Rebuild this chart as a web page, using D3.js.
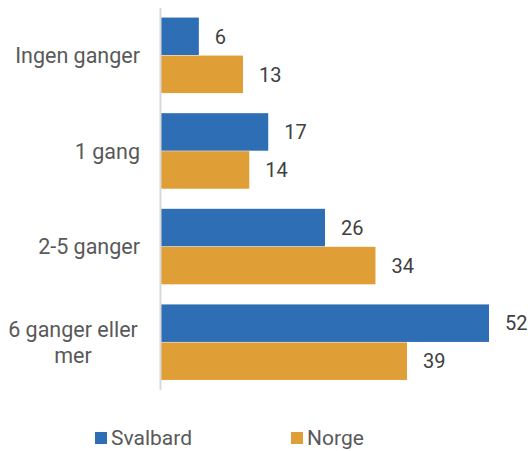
<!DOCTYPE html>
<html>
<head>
<meta charset="utf-8">
<script src="https://cdn.jsdelivr.net/npm/d3@7"></script>
<style>
  body { margin: 0; background: #fff; }
  svg { display: block; font-family: Roboto, "Liberation Sans", sans-serif; }
</style>
</head>
<body>
<svg id="chart" width="532" height="451"></svg>
<script>
// data
var categories = ["Ingen ganger", "1 gang", "2-5 ganger", "6 ganger eller mer"]
var series_names = ["Svalbard", "Norge"]
var svalbard = [6, 17, 26, 52]
var norge = [13, 14, 34, 39]
var series_colors = ["#2E6EB4", "#E09E36"]

var svg = d3.select("#chart")
var left = 161, top_y = 8, bottom_y = 390

var values = [svalbard, norge]

var y = d3.scaleBand()
  .domain(categories)
  .range([top_y, bottom_y])
  .paddingInner(0.205)
  .paddingOuter(0.1)

var y_inner = d3.scaleBand()
  .domain(series_names)
  .range([0, y.bandwidth()])

var x = d3.scaleLinear()
  .domain([0, 52])
  .range([left, 489])

// bars
series_names.forEach(function(name, si){
  var g = svg.append("g").attr("class", "series-" + si)
  g.selectAll("rect")
    .data(categories)
    .enter().append("rect")
      .attr("x", x(0))
      .attr("y", function(d){ return y(d) + y_inner(name) })
      .attr("width", function(d, i){ return x(values[si][i]) - x(0) })
      .attr("height", y_inner.bandwidth() - 0.5)
      .attr("fill", series_colors[si])

  g.selectAll("text")
    .data(categories)
    .enter().append("text")
      .attr("x", function(d, i){ return x(values[si][i]) + 16 })
      .attr("y", function(d){ return y(d) + y_inner(name) + y_inner.bandwidth() / 2 })
      .attr("dy", "0.35em")
      .attr("font-size", "20px")
      .attr("fill", "#404040")
      .text(function(d, i){ return values[si][i] })
})

// category axis line
svg.append("line")
  .attr("x1", left - 0.5).attr("x2", left - 0.5)
  .attr("y1", top_y).attr("y2", bottom_y)
  .attr("stroke", "#d9d9d9")
  .attr("stroke-width", 2)

// category labels (wrap the long one like the original)
var label_lines = {
  "Ingen ganger": ["Ingen ganger"],
  "1 gang": ["1 gang"],
  "2-5 ganger": ["2-5 ganger"],
  "6 ganger eller mer": ["6 ganger eller", "mer"]
}

categories.forEach(function(c){
  var lines = label_lines[c]
  var cy = y(c) + y.bandwidth() / 2
  var t = svg.append("text")
    .attr("font-size", "21.5px")
    .attr("fill", "#595959")
  lines.forEach(function(l, li){
    t.append("tspan")
      .attr("x", lines.length > 1 ? 73 : 140)
      .attr("text-anchor", lines.length > 1 ? "middle" : "end")
      .attr("y", cy + (li - (lines.length - 1) / 2) * 26)
      .attr("dy", "0.35em")
      .text(l)
  })
})

// legend
var legend_x = [95, 291]
series_names.forEach(function(name, si){
  svg.append("rect")
    .attr("x", legend_x[si]).attr("y", 432)
    .attr("width", 12).attr("height", 12)
    .attr("fill", series_colors[si])
  svg.append("text")
    .attr("x", legend_x[si] + 16).attr("y", 445)
    .attr("font-size", "21px")
    .attr("fill", "#595959")
    .text(name)
})
</script>
</body>
</html>
